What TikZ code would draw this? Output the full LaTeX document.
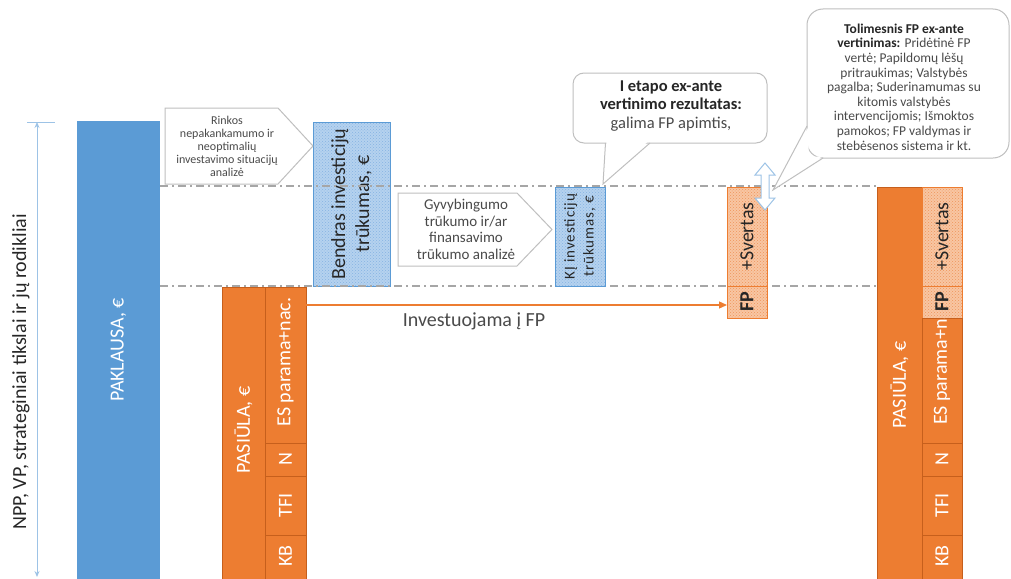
\documentclass[tikz,border=0pt]{standalone}
\usepackage{fontspec}
\setmainfont{Carlito}
\usetikzlibrary{patterns,arrows.meta,calc}
\definecolor{myblue}{HTML}{5B9BD5}
\definecolor{axisblue}{HTML}{9DC3E6}
\definecolor{lbbase}{HTML}{B5D2EF}
\definecolor{lbdot}{HTML}{86B3E2}
\definecolor{myorange}{HTML}{ED7D31}
\definecolor{darkor}{HTML}{C65F1C}
\definecolor{lobase}{HTML}{F8C6A3}
\definecolor{lodot}{HTML}{EF955A}
\definecolor{callgray}{HTML}{BFBFBF}
\definecolor{txtgray}{HTML}{4A4A4A}
\definecolor{txtdark}{HTML}{262626}
\definecolor{dashgray}{HTML}{A6A6A6}
\newcommand\fsz[2]{\fontsize{#1}{#2}\selectfont}
\begin{document}
\begin{tikzpicture}[x=1pt,y=-1pt,
  cell/.style n args={2}{inner sep=0pt,outer sep=0pt,minimum width=#1,minimum height=#2},
  solidblue/.style={fill=myblue,draw=none},
  dotblue/.style={draw=myblue,line width=0.8pt,preaction={fill=lbbase},pattern=crosshatch dots,pattern color=lbdot},
  solidorange/.style={fill=myorange,draw=darkor,line width=0.8pt},
  dotorange/.style={draw=myorange,line width=0.8pt,preaction={fill=lobase},pattern=crosshatch dots,pattern color=lodot},
  vtext/.style={rotate=90,align=center,inner sep=0pt},
  callshape/.style={draw=callgray,line width=1pt,fill=white},
  sepline/.style={dashgray,line width=1.5pt,dash pattern=on 8pt off 4pt on 2pt off 4pt},
  colfont/.style={font=\fsz{20}{24}},
]
\useasboundingbox (0,0) rectangle (1011,578);

% axis
\coordinate (axtop) at (37,122);
\coordinate (axbot) at (37,577);
\coordinate (tickL) at (27,122);
\coordinate (tickR) at (55,122);
\draw[axisblue,line width=1pt] (tickL) -- (tickR);
\draw[axisblue,line width=1pt,{Stealth[length=6pt,width=5pt]}-{Stealth[length=6pt,width=5pt]}] (axtop) -- (axbot);
\node[vtext,colfont,text=txtdark] (axlabel) at (21,372) {NPP, VP, strateginiai tikslai ir jų rodikliai};

% demand
\node[cell={83pt}{459pt},solidblue] (pak) at (118.5,350.5) {};
\node[vtext,colfont,text=white] (paktxt) at (118.5,350) {PAKLAUSA, €};

% total gap
\node[cell={77pt}{164pt},dotblue] (bendras) at (351.5,204) {};
\node[vtext,colfont,text=txtdark] (bendrastxt) at (bendras) {Bendras investicijų\\trūkumas, €};

% separator lines
\coordinate (upL) at (160,186);
\coordinate (upR) at (877,186);
\coordinate (loL) at (160,286);
\coordinate (loR) at (877,286);
\draw[sepline] (upL) -- (upR);
\draw[sepline] (loL) -- (loR);

% callout 1
\draw[callshape] (165,108) -- (278,108) -- (313,146) -- (278,184) -- (165,184) -- cycle;
\node[align=center,font=\fsz{12}{13},text=txtgray] (call1) at (227,146) {Rinkos\\nepakankamumo ir\\neoptimalių\\investavimo situacijų\\analizė};

% callout 2
\draw[callshape] (398,193) -- (517,193) -- (552,229.5) -- (517,266) -- (398,266) -- cycle;
\node[align=center,font=\fsz{15}{16.5},text=txtgray] (call2) at (466,229.5) {Gyvybingumo\\trūkumo ir/ar\\finansavimo\\trūkumo analizė};

% KI gap
\node[cell={50pt}{99pt},dotblue] (ki) at (580,236.5) {};
\node[vtext,font={\fsz{15}{19}\addfontfeature{LetterSpace=6}},text=txtdark] (kitxt) at (ki) {KĮ investicijų\\trūkumas, €};

% speech bubble 1
\draw[callshape,rounded corners=11pt] (573,73) rectangle (767,143);
\fill[white] (606.5,141.5) -- (603.5,181) -- (648,141.5) -- cycle;
\coordinate (b1a) at (605.5,143);
\coordinate (b1tip) at (603,184);
\coordinate (b1b) at (650,143);
\draw[callgray,line width=1pt] (b1a) -- (b1tip) -- (b1b);
\node[align=center,font=\fsz{16.5}{18.5},text=txtgray] (bub1) at (671,106) {\textcolor{txtdark}{\bfseries I etapo ex-ante}\\\textcolor{txtdark}{\bfseries vertinimo rezultatas:}\\galima FP apimtis,};

% FP column (middle)
\node[cell={40pt}{99pt},dotorange] (fpsv) at (747,236.5) {};
\node[cell={40pt}{32pt},dotorange] (fpfp) at (747,302) {};
\node[vtext,colfont,text=txtdark] at (fpsv) {+Svertas};
\node[vtext,colfont,text=txtdark] at (fpfp) {\bfseries FP};

% double arrow
\draw[axisblue,line width=1pt,fill=white] (765,163) -- (775,175) -- (769,175) -- (769,198) -- (775,198) -- (765,210) -- (755,198) -- (761,198) -- (761,175) -- (755,175) -- cycle;

% speech bubble 2
\draw[callshape,rounded corners=16pt] (807,9) rectangle (1009,158);
\fill[white] (808.5,127) -- (774,189) -- (822,156.5) -- (808.5,156.5) -- cycle;
\coordinate (b2a) at (807,126);
\coordinate (b2tip) at (773,190);
\coordinate (b2b) at (823,158);
\draw[callgray,line width=1pt] (b2a) -- (b2tip) -- (b2b);
\node[align=center,font=\fsz{13.5}{14.6},text=txtgray] (bub2) at (904,87) {\textcolor{txtdark}{\bfseries Tolimesnis FP ex-ante}\\\textcolor{txtdark}{\bfseries vertinimas:} Pridėtinė FP\\vertė; Papildomų lėšų\\pritraukimas; Valstybės\\pagalba; Suderinamumas su\\kitomis valstybės\\intervencijomis; Išmoktos\\pamokos; FP valdymas ir\\stebėsenos sistema ir kt.};

% left supply column
\node[cell={43pt}{293pt},solidorange] (pasL) at (243.5,433.5) {};
\node[vtext,colfont,text=white] at (243.5,430) {PASIŪLA, €};
\node[cell={41pt}{156pt},solidorange] (lES) at (285.5,365) {};
\node[cell={41pt}{33pt},solidorange] (lN) at (285.5,459.5) {};
\node[cell={41pt}{59pt},solidorange] (lTFI) at (285.5,505.5) {};
\node[cell={41pt}{45pt},solidorange] (lKB) at (285.5,557.5) {};
\node[vtext,colfont,text=white] at (285.5,362) {ES parama+nac.};
\node[vtext,colfont,text=white] at (lN) {N};
\node[vtext,colfont,text=white] at (lTFI) {TFI};
\node[vtext,colfont,text=white] at (285.5,556) {KB};

% right supply column
\node[cell={45pt}{393pt},solidorange] (pasR) at (899.5,383.5) {};
\node[vtext,colfont,text=white] at (899.5,385) {PASIŪLA, €};
\node[cell={40pt}{99pt},dotorange] (rsv) at (942,236.5) {};
\node[cell={40pt}{32pt},dotorange] (rfp) at (942,302) {};
\node[cell={40pt}{125pt},solidorange] (rES) at (942,380.5) {};
\node[cell={40pt}{33pt},solidorange] (rN) at (942,459.5) {};
\node[cell={40pt}{59pt},solidorange] (rTFI) at (942,505.5) {};
\node[cell={40pt}{45pt},solidorange] (rKB) at (942,557.5) {};
\node[vtext,colfont,text=txtdark] at (rsv) {+Svertas};
\node[vtext,colfont,text=txtdark] at (rfp) {\bfseries FP};
\begin{scope}
\clip (922.5,318.5) rectangle (961.5,442.5);
\node[vtext,colfont,text=white,anchor=west] at (942,425) {ES parama+nac.};
\end{scope}
\node[vtext,colfont,text=white] at (rN) {N};
\node[vtext,colfont,text=white] at (rTFI) {TFI};
\node[vtext,colfont,text=white] at (942,556) {KB};

% investment arrow
\coordinate (arrowy) at (0,305);
\draw[myorange,line width=1.3pt,-{Triangle[length=8pt,width=7pt]}] (lES.east |- arrowy) -- (fpfp.west |- arrowy);
\node[font=\fsz{20}{24},text=txtgray] (invlabel) at (474,321) {Investuojama į FP};
\end{tikzpicture}
\end{document}
